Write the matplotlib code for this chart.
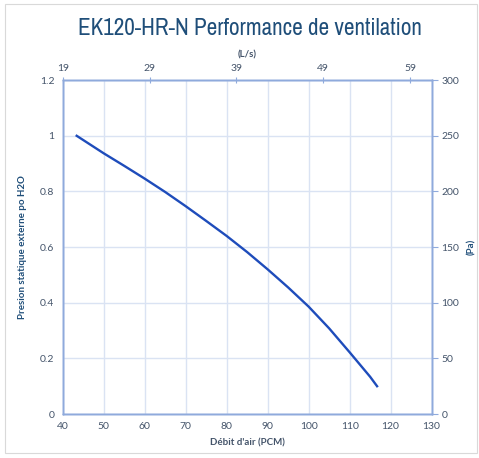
import numpy as np
import matplotlib.pyplot as plt
from matplotlib import font_manager

# data
debit_pcm = [43.4, 50, 55, 60, 65, 70, 75, 80, 85, 90, 95, 100, 105, 110, 115, 116.7]
pression_h2o = [1.0, 0.937, 0.892, 0.846, 0.798, 0.747, 0.694, 0.640, 0.582,
                0.520, 0.455, 0.386, 0.308, 0.222, 0.134, 0.10]

x_ticks = [40, 50, 60, 70, 80, 90, 100, 110, 120, 130]
y_ticks = [0, 0.2, 0.4, 0.6, 0.8, 1.0, 1.2]
y_labels = ["0", "0.2", "0.4", "0.6", "0.8", "1", "1.2"]
ls_ticks = [19, 29, 39, 49, 59]
pa_ticks = [0, 50, 100, 150, 200, 250, 300]

CFM_PER_LS = 2.11888

title_col = "#1f4e79"
tick_col = "#44546a"
spine_col = "#8faadc"
grid_col = "#dae3f3"
line_col = "#1e4cbb"

plt.rcParams['font.family'] = ['Lato', 'DejaVu Sans']

# narrow font for the title if one is installed
names = {f.name for f in font_manager.fontManager.ttflist}
narrow = [n for n in names if 'Narrow' in n or 'Condensed' in n]
if narrow:
    title_family, title_size, title_stretch = [sorted(narrow)[0], 'DejaVu Sans'], 16.7, 'condensed'
else:
    title_family, title_size, title_stretch = ['DejaVu Sans'], 13, 'normal'

fig = plt.figure(figsize=(4.79, 4.58), dpi=100)
ax = fig.add_axes([0.131, 0.096, 0.770, 0.729])

ax.plot(debit_pcm, pression_h2o, color=line_col, linewidth=1.7, solid_joinstyle='round')

ax.set_xlim(40, 130)
ax.set_ylim(0, 1.2)
ax.set_xticks(x_ticks)
ax.set_yticks(y_ticks)
ax.set_yticklabels(y_labels)
ax.grid(True, color=grid_col, linewidth=1.0)
ax.set_axisbelow(True)
ax.tick_params(axis='both', length=0, labelsize=7.5, labelcolor=tick_col, pad=6)
for s in ax.spines.values():
    s.set_color(spine_col)
    s.set_linewidth(1.0)

ax.set_xlabel("Débit d'air (PCM)", fontsize=7, fontweight='bold', color=tick_col, labelpad=5)
ax.set_ylabel("Presion statique externe po H2O", fontsize=7, fontweight='bold',
              color=title_col, labelpad=9)

# secondary top axis in L/s
axt = ax.twiny()
axt.set_xlim(40 / CFM_PER_LS + 0.12, 130 / CFM_PER_LS + 0.12)
axt.set_xticks(ls_ticks)
axt.tick_params(axis='x', direction='inout', length=4, color=spine_col,
                labelsize=7.5, labelcolor=tick_col, pad=3)
axt.set_xlabel("(L/s)", fontsize=7, fontweight='bold', color=tick_col, labelpad=5)

# secondary right axis in Pa
axr = ax.twinx()
axr.set_ylim(0, 300)
axr.set_yticks(pa_ticks)
axr.tick_params(axis='y', direction='out', length=4, color=spine_col,
                labelsize=7.5, labelcolor=tick_col, pad=3)
axr.set_ylabel("(Pa)", fontsize=7, fontweight='bold', color=title_col, labelpad=6)

for a in (axt, axr):
    for s in a.spines.values():
        s.set_color(spine_col)
        s.set_linewidth(1.0)

fig.text(0.521, 0.938, "EK120-HR-N Performance de ventilation", ha='center', va='center',
         fontsize=title_size, color=title_col, family=title_family,
         fontstretch=title_stretch)

# chart border
border = plt.Rectangle((0.011, 0.011), 0.985, 0.98, transform=fig.transFigure,
                       fill=False, edgecolor="#d9d9d9", linewidth=0.8)
fig.patches.append(border)

fig.savefig("out.png", dpi=100)
